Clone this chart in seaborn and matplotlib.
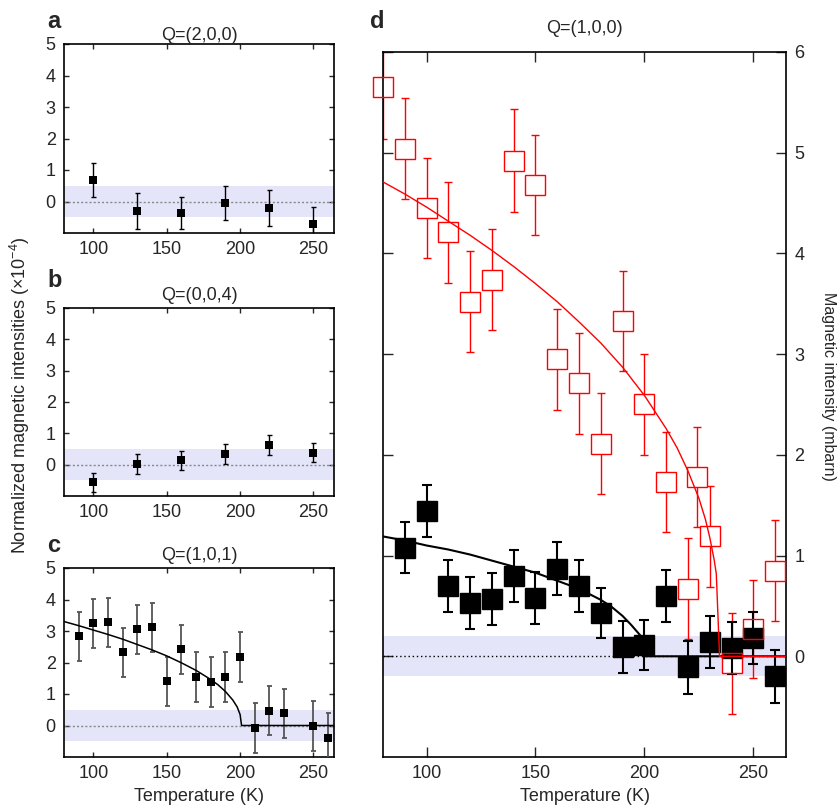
import numpy as np
import pandas as pd
import seaborn as sns
import matplotlib.pyplot as plt

# ---- data ----
# panel a, Q=(2,0,0)
a_temp = [100, 130, 160, 190, 220, 250]
a_int = [0.68, -0.30, -0.37, -0.05, -0.21, -0.71]
a_err = [0.55, 0.56, 0.50, 0.55, 0.56, 0.55]

# panel b, Q=(0,0,4)
b_temp = [100, 130, 160, 190, 220, 250]
b_int = [-0.56, 0.01, 0.14, 0.33, 0.64, 0.38]
b_err = [0.30, 0.32, 0.31, 0.32, 0.32, 0.31]

# panel c, Q=(1,0,1)
c_temp = [90, 100, 110, 120, 130, 140, 150, 160, 170, 180, 190, 200, 210, 220, 230, 250, 260]
c_int = [2.83, 3.25, 3.28, 2.33, 3.06, 3.12, 1.40, 2.42, 1.54, 1.38, 1.54, 2.17,
         -0.08, 0.47, 0.39, -0.02, -0.39]
c_err = [0.78, 0.78, 0.78, 0.78, 0.78, 0.78, 0.79, 0.78, 0.78, 0.78, 0.78, 0.79,
         0.78, 0.78, 0.78, 0.79, 0.78]
c_fit_t = [80, 90, 100, 110, 120, 130, 140, 150, 160, 170, 180, 185, 190, 195, 198, 200, 201, 265]
c_fit_v = [3.30, 3.17, 3.03, 2.89, 2.74, 2.57, 2.40, 2.21, 1.99, 1.75, 1.46, 1.29, 1.08,
           0.81, 0.59, 0.35, 0.0, 0.0]

# panel d, Q=(1,0,0): black filled squares
d_temp = [90, 100, 110, 120, 130, 140, 150, 160, 170, 180, 190, 200, 210, 220, 230, 240, 250, 260]
d_black = [1.08, 1.44, 0.70, 0.53, 0.57, 0.80, 0.58, 0.87, 0.70, 0.43, 0.09, 0.11,
           0.60, -0.11, 0.14, 0.08, 0.18, -0.20]
d_black_err = [0.25, 0.26, 0.26, 0.26, 0.26, 0.26, 0.26, 0.26, 0.26, 0.25, 0.26, 0.25,
               0.26, 0.26, 0.26, 0.26, 0.26, 0.26]
d_bfit_t = [80, 90, 100, 110, 120, 130, 140, 150, 160, 170, 180, 185, 190, 194, 198, 199.5, 265]
d_bfit_v = [1.19, 1.15, 1.10, 1.06, 1.01, 0.95, 0.89, 0.83, 0.75, 0.67, 0.56, 0.49, 0.40,
            0.31, 0.21, 0.0, 0.0]

# panel d: red open squares
d_red_temp = [80, 90, 100, 110, 120, 130, 140, 150, 160, 170, 180, 190, 200, 210, 220, 224,
              230, 240, 250, 260]
d_red = [5.65, 5.04, 4.45, 4.21, 3.52, 3.74, 4.92, 4.68, 2.95, 2.71, 2.11, 3.33, 2.50, 1.73,
         0.67, 1.78, 1.19, -0.07, 0.27, 0.85]
d_red_err = [0.51, 0.50, 0.50, 0.50, 0.50, 0.50, 0.51, 0.50, 0.50, 0.50, 0.50, 0.50, 0.50,
             0.50, 0.50, 0.50, 0.50, 0.50, 0.49, 0.50]
d_rfit_t = [80, 90, 100, 110, 120, 130, 140, 150, 160, 170, 180, 190, 200, 210, 215, 220,
            225, 228, 230, 232, 233, 234.5, 265]
d_rfit_v = [4.71, 4.59, 4.46, 4.32, 4.18, 4.03, 3.87, 3.70, 3.52, 3.32, 3.11, 2.87, 2.59,
            2.26, 2.07, 1.84, 1.57, 1.36, 1.18, 0.96, 0.82, 0.0, 0.0]

small_band = 0.5
big_band = 0.2
band_color = '#e5e5fa'

# ---- style ----
sns.set_style("ticks")
plt.rcParams['font.family'] = ['Liberation Sans', 'DejaVu Sans']
plt.rcParams['mathtext.fontset'] = 'custom'
plt.rcParams['mathtext.rm'] = 'Liberation Sans'
plt.rcParams['mathtext.it'] = 'Liberation Sans:italic'
plt.rcParams['axes.linewidth'] = 1.2
plt.rcParams['axes.edgecolor'] = 'black'

W, H = 838, 811
fig = plt.figure(figsize=(W / 100, H / 100), dpi=100)


def px_axes(left, top, right, bottom):
    return fig.add_axes([left / W, 1 - bottom / H, (right - left) / W, (bottom - top) / H])


ax_a = px_axes(64, 44, 334, 233)
ax_b = px_axes(64, 308, 334, 496)
ax_c = px_axes(64, 568, 334, 757)
ax_d = px_axes(383, 52, 786, 757)


def small_panel(ax, temp, vals, errs, title, title_pad, ecolor='black', elw=1.0):
    ax.axhspan(-small_band, small_band, color=band_color, lw=0, zorder=0)
    ax.axhline(0, color='#888888', ls=(0, (1.5, 1.5)), lw=1.0, zorder=1)
    ax.errorbar(temp, vals, yerr=errs, fmt='none', ecolor=ecolor, elinewidth=elw,
                capsize=1.8, capthick=elw, zorder=3)
    sns.scatterplot(x=temp, y=vals, ax=ax, marker='s', s=29, color='black',
                    edgecolor='black', linewidth=0, zorder=4)
    ax.set_xlim(80, 264)
    ax.set_ylim(-1, 5)
    ax.set_xticks([100, 150, 200, 250])
    ax.set_yticks([0, 1, 2, 3, 4, 5])
    ax.tick_params(direction='in', length=3.5, width=1, top=True, right=True,
                   labelsize=13, pad=6)
    ax.set_title(title, fontsize=13, pad=title_pad)


small_panel(ax_a, a_temp, a_int, a_err, 'Q=(2,0,0)', 3)
small_panel(ax_b, b_temp, b_int, b_err, 'Q=(0,0,4)', 6)
small_panel(ax_c, c_temp, c_int, c_err, 'Q=(1,0,1)', 6, ecolor='#555555', elw=1.3)
sns.lineplot(x=c_fit_t, y=c_fit_v, ax=ax_c, color='black', lw=1.1, zorder=5)
ax_c.set_xlabel('Temperature (K)', fontsize=13, labelpad=4)

# ---- panel d ----
ax_d.axhspan(-big_band, big_band, color=band_color, lw=0, zorder=0)
ax_d.axhline(0, color='black', ls=(0, (1, 2)), lw=1.0, zorder=1)

# red: error bars, then white inside the squares so bars stop at the edges
ax_d.errorbar(d_red_temp, d_red, yerr=d_red_err, fmt='none', ecolor='red',
              elinewidth=1.0, capsize=3, capthick=1.0, zorder=2)
ax_d.plot(d_red_temp, d_red, ls='none', marker='s', ms=14, mfc='white', mec='none',
          zorder=2.5, clip_on=False)

# black filled squares
ax_d.errorbar(d_temp, d_black, yerr=d_black_err, fmt='none', ecolor='black',
              elinewidth=1.5, capsize=3.5, capthick=1.5, zorder=3)
ax_d.plot(d_temp, d_black, ls='none', marker='s', ms=14, mfc='black', mec='black',
          zorder=3.5)

# red open squares outlines on top
ax_d.plot(d_red_temp, d_red, ls='none', marker='s', ms=14, mfc='none', mec='red',
          mew=1.0, zorder=4, clip_on=False)

sns.lineplot(x=d_bfit_t, y=d_bfit_v, ax=ax_d, color='black', lw=1.5, zorder=5)
sns.lineplot(x=d_rfit_t, y=d_rfit_v, ax=ax_d, color='red', lw=1.0, zorder=5)

ax_d.set_xlim(80, 265)
ax_d.set_ylim(-1, 6)
ax_d.set_xticks([100, 150, 200, 250])
ax_d.set_yticks([0, 1, 2, 3, 4, 5, 6])
ax_d.tick_params(direction='in', length=7, width=1, top=True, right=True, left=True,
                 labelleft=False, labelright=True, labelsize=13, pad=6)
ax_d.set_title('Q=(1,0,0)', fontsize=13, pad=14)
ax_d.set_xlabel('Temperature (K)', fontsize=13, labelpad=4)
ax_d.yaxis.set_label_position('right')
ax_d.set_ylabel('Magnetic intensity (mbarn)', fontsize=11.5, rotation=-90, labelpad=14)
ax_d.yaxis.set_label_coords(1.125, 0.525)

# shared label and panel letters
fig.text(20 / W, 1 - 395 / H, 'Normalized magnetic intensities (×10$^{-4}$)',
         rotation=90, ha='center', va='center', fontsize=13)
for letter, (lx, ly) in {'a': (47, 28), 'b': (47, 287), 'c': (47, 552),
                         'd': (370, 28)}.items():
    fig.text(lx / W, 1 - ly / H, letter, fontsize=17, fontweight='bold',
             ha='left', va='baseline')

fig.savefig('out.png', dpi=100)
